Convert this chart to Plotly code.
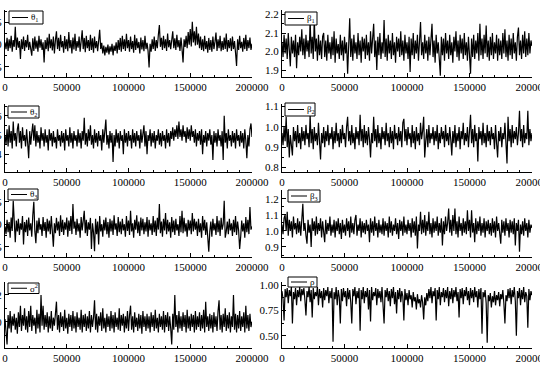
import plotly.graph_objects as go

# ---------------- data ----------------
N_ITER = 200000

theta1 = [1.05,0.90,1.15,0.86,1.12,0.92,1.20,0.84,1.10,0.95,1.40,0.88,1.16,0.93,1.08,0.68,1.12,0.90,1.18,0.86,
          1.10,0.94,1.22,0.88,1.06,0.92,0.75,1.14,0.86,1.18,0.91,1.09,0.84,1.20,0.93,1.12,0.88,1.05,0.60,1.10,
          0.90,1.16,0.85,1.24,0.92,1.12,0.87,1.18,0.80,1.10,1.30,0.90,1.15,0.86,1.22,0.94,1.08,0.82,1.19,0.90,
          1.12,0.85,1.28,0.92,1.10,0.80,1.16,0.89,1.24,0.86,1.08,0.93,1.18,0.84,1.12,1.32,0.90,1.15,0.83,1.20,
          0.92,1.10,0.86,1.22,0.88,1.14,0.82,1.18,0.92,1.08,0.85,1.20,1.33,0.90,1.04,0.80,0.98,0.76,0.95,0.82,
          1.00,0.78,0.96,0.84,1.02,0.76,0.98,0.86,1.05,0.80,1.10,0.88,1.15,0.84,1.20,0.90,1.12,0.86,1.24,0.92,
          1.10,0.84,1.18,0.90,1.08,0.82,1.22,0.88,1.14,0.92,1.06,0.80,1.16,0.89,1.10,0.85,1.20,0.90,1.04,0.86,
          0.49,1.02,0.84,1.12,0.90,1.18,0.86,1.10,0.92,1.22,1.44,0.95,1.15,0.88,1.20,0.92,1.12,0.86,1.25,0.94,
          1.10,0.90,1.18,1.30,0.92,1.14,0.88,1.22,0.94,1.10,0.86,1.16,0.90,0.60,1.12,0.95,1.20,0.92,1.28,1.00,
          1.35,0.96,1.51,1.05,1.30,0.98,1.40,1.00,1.25,0.92,1.18,0.88,1.12,0.85,1.20,0.90,1.08,0.82,1.15,0.88,
          1.10,0.84,1.18,0.90,1.06,1.27,0.86,1.12,0.92,1.20,0.85,1.08,0.88,1.16,0.90,1.25,0.84,1.10,0.92,1.14,
          0.86,1.18,0.90,1.08,0.82,0.52,1.12,0.88,1.20,0.92,1.06,0.84,1.15,0.90,1.22,0.86,1.10,0.92,1.16,0.88,
          1.02]

beta1 = [2.05,1.97,2.09,1.99,2.07,1.96,2.10,1.98,1.92,2.08,1.99,2.06,1.97,2.09,1.91,2.05,1.98,2.08,2.00,2.12,
         1.98,2.07,1.96,2.09,2.00,2.06,1.97,2.17,1.99,2.08,1.96,2.18,2.00,2.07,1.95,2.09,1.98,2.06,1.96,2.08,
         2.10,1.97,2.06,1.95,2.09,1.99,2.05,1.96,2.08,1.98,2.11,1.94,2.07,1.99,2.04,1.96,2.09,1.98,2.06,1.95,
         2.08,1.99,2.05,1.88,2.10,2.18,1.97,2.07,1.95,2.09,1.99,2.05,1.96,2.10,1.98,2.06,1.94,2.08,2.00,2.07,
         1.96,2.09,1.98,2.05,1.95,2.11,1.99,2.07,2.15,1.97,2.06,1.90,2.08,1.98,2.10,1.96,2.05,1.99,2.17,1.97,
         2.07,1.95,2.09,1.99,2.06,1.96,2.10,1.98,2.05,1.94,2.08,2.00,2.07,1.97,2.11,1.98,2.06,1.95,2.09,1.99,
         2.05,1.96,2.08,1.89,2.07,1.98,2.10,1.96,2.06,1.99,2.09,1.95,2.07,2.16,1.98,2.05,1.96,2.09,1.99,2.06,
         1.95,2.08,1.98,2.10,2.15,1.97,2.06,1.94,2.09,1.99,2.05,1.96,1.87,2.08,1.98,2.07,1.95,2.10,1.99,2.06,
         1.96,2.09,1.98,2.05,1.94,2.08,2.00,2.11,1.97,2.06,1.95,2.09,1.99,2.07,1.96,2.10,1.98,2.05,1.95,2.08,
         1.99,1.88,2.07,1.97,2.09,1.96,2.06,1.99,2.10,1.95,2.15,1.98,2.07,1.96,2.09,1.99,2.14,1.97,2.06,1.95,
         2.08,1.98,2.10,1.96,2.05,1.99,2.09,1.95,2.07,1.98,2.06,1.96,2.10,1.99,2.12,1.97,2.06,1.95,2.09,1.98,
         2.07,1.96,2.10,1.99,2.05,1.95,2.08,2.13,1.98,2.06,1.96,2.09,1.99,2.11,1.97,2.07,1.98,2.10,1.99,2.06,
         2.03]

theta2 = [0.50,0.45,0.53,0.44,0.55,0.46,0.52,0.43,0.57,0.47,0.51,0.44,0.53,0.56,0.46,0.52,0.43,0.54,0.47,0.50,
          0.44,0.53,0.46,0.38,0.52,0.45,0.51,0.56,0.47,0.55,0.44,0.52,0.46,0.50,0.43,0.54,0.47,0.51,0.44,0.53,
          0.46,0.50,0.42,0.53,0.47,0.51,0.44,0.52,0.46,0.49,0.43,0.53,0.47,0.50,0.44,0.52,0.46,0.51,0.42,0.53,
          0.47,0.50,0.44,0.54,0.46,0.51,0.43,0.52,0.47,0.50,0.44,0.53,0.46,0.51,0.43,0.52,0.47,0.59,0.45,0.51,
          0.44,0.53,0.47,0.55,0.45,0.50,0.43,0.53,0.46,0.51,0.44,0.52,0.47,0.50,0.42,0.53,0.46,0.51,0.58,0.45,
          0.50,0.43,0.52,0.46,0.51,0.36,0.50,0.44,0.53,0.46,0.51,0.43,0.52,0.47,0.50,0.40,0.53,0.46,0.51,0.44,
          0.52,0.47,0.50,0.43,0.53,0.46,0.51,0.44,0.52,0.47,0.50,0.43,0.53,0.46,0.51,0.55,0.44,0.52,0.40,0.50,
          0.47,0.53,0.44,0.51,0.46,0.52,0.43,0.50,0.47,0.53,0.45,0.51,0.44,0.52,0.47,0.50,0.43,0.53,0.46,0.51,
          0.44,0.52,0.48,0.54,0.47,0.53,0.49,0.55,0.48,0.57,0.49,0.53,0.47,0.55,0.49,0.52,0.46,0.54,0.48,0.53,
          0.47,0.55,0.49,0.52,0.46,0.53,0.44,0.51,0.47,0.52,0.45,0.53,0.40,0.50,0.46,0.52,0.44,0.51,0.47,0.53,
          0.45,0.50,0.37,0.52,0.46,0.51,0.44,0.53,0.47,0.50,0.44,0.52,0.37,0.60,0.46,0.51,0.43,0.53,0.47,0.50,
          0.44,0.52,0.46,0.51,0.43,0.53,0.47,0.50,0.44,0.52,0.46,0.51,0.43,0.53,0.47,0.38,0.50,0.44,0.53,0.56,
          0.49]

beta2 = [0.97,0.91,1.00,0.93,1.05,0.90,0.99,0.85,0.96,0.92,0.86,1.00,0.93,0.98,0.90,1.01,0.92,0.97,0.89,1.00,
         0.93,0.98,0.91,1.01,0.94,0.97,0.90,1.06,0.92,0.99,0.89,1.00,0.93,0.97,0.91,1.02,0.94,0.84,0.97,0.92,
         1.00,0.90,0.98,0.93,1.01,0.91,0.97,0.94,1.00,0.89,0.98,0.92,1.02,0.93,0.97,0.90,0.99,0.92,1.01,0.94,
         0.97,0.90,1.00,1.05,0.93,0.98,0.91,1.01,0.92,0.97,0.89,1.00,0.94,0.98,0.91,1.06,0.93,0.99,0.90,1.01,
         0.92,0.98,0.91,1.00,0.94,0.85,0.97,0.92,1.05,0.93,0.99,0.90,1.01,0.92,0.97,0.89,1.00,0.94,0.98,0.91,
         1.02,0.93,0.97,0.90,1.00,0.92,0.98,0.89,1.01,0.94,0.97,0.91,1.00,0.93,0.98,0.90,1.02,1.04,0.93,0.99,
         0.91,1.00,0.94,0.97,0.90,1.01,0.92,0.98,0.89,1.00,0.93,0.97,0.91,1.02,0.94,0.98,1.05,0.85,0.93,0.99,
         0.90,1.01,0.92,0.97,0.94,1.00,0.91,0.98,0.93,1.01,0.89,0.97,0.92,1.00,0.94,0.98,0.90,1.01,0.93,0.97,
         0.91,1.00,0.94,0.86,0.98,0.92,1.01,0.90,0.97,0.93,1.00,0.89,0.98,0.94,1.02,0.91,0.97,0.93,1.00,0.90,
         0.98,1.06,0.92,0.99,0.90,1.01,0.93,0.97,0.83,1.00,0.94,0.98,0.91,1.02,0.92,0.97,0.90,1.01,0.93,0.98,
         0.91,1.00,0.94,0.97,0.89,1.01,0.92,0.85,0.98,0.93,1.00,0.90,0.97,0.94,1.02,0.91,0.82,1.05,0.93,0.99,
         0.90,1.01,0.92,0.98,0.94,1.00,0.91,0.97,1.08,0.93,0.99,0.90,1.01,0.92,0.97,0.94,1.08,0.91,0.99,0.93,
         0.97]

theta3 = [0.95,0.78,1.10,0.82,1.05,0.70,1.15,0.85,1.52,0.80,0.60,1.08,0.84,1.12,0.76,1.02,0.88,1.18,0.55,1.05,
          0.82,1.10,0.74,1.15,0.86,1.02,0.72,1.20,1.50,0.84,0.58,1.08,0.80,1.14,0.88,1.00,0.74,1.16,0.85,1.05,
          0.70,1.12,0.84,1.08,0.78,1.18,0.88,0.50,1.02,0.80,1.14,0.86,1.06,0.74,1.20,0.83,1.10,0.76,1.04,0.88,
          1.15,0.72,1.08,0.85,1.18,0.78,1.45,0.90,1.06,0.76,1.12,0.84,1.02,0.70,1.16,0.86,1.08,1.30,0.80,1.10,
          0.74,1.04,0.88,1.14,0.45,1.02,0.82,0.40,1.12,0.78,1.06,0.55,1.18,0.84,1.00,0.72,1.10,0.86,1.15,0.78,
          1.05,0.70,1.12,0.84,1.08,0.76,1.20,0.88,1.02,0.74,1.16,0.82,1.06,0.78,1.12,0.86,1.00,0.72,1.18,0.85,
          1.08,0.76,1.30,0.84,1.02,0.70,1.10,0.88,1.20,0.80,1.06,0.74,1.15,0.86,1.12,0.78,1.04,0.84,1.16,0.72,
          1.10,0.86,1.02,0.76,1.18,0.82,1.08,0.74,1.14,0.88,1.45,0.80,1.06,0.72,1.12,0.86,1.25,0.78,1.10,0.84,
          1.04,0.70,1.16,0.82,1.08,0.76,1.12,0.86,1.00,0.74,1.18,0.82,1.30,0.80,1.14,0.84,1.02,0.72,1.10,0.86,
          1.08,0.78,1.25,0.84,1.12,0.88,1.06,0.74,1.12,0.82,1.02,0.70,1.18,0.86,1.10,0.76,1.04,0.80,0.39,0.84,
          1.06,0.72,1.12,0.86,1.02,0.76,1.18,0.82,1.08,0.74,1.14,0.88,1.00,1.52,0.70,0.84,1.06,0.78,1.12,0.86,
          1.02,0.74,1.10,0.82,1.18,0.76,1.06,0.86,0.45,0.72,1.08,0.84,1.02,0.70,1.16,0.82,1.10,0.78,1.38,0.88,
          0.95]

beta3 = [1.04,0.98,1.08,1.10,1.00,1.12,0.97,1.07,1.00,1.06,0.96,1.09,1.01,1.05,0.98,1.08,0.99,1.06,0.97,1.10,
         1.17,1.00,1.05,0.97,0.92,1.07,0.99,1.04,0.90,1.08,1.00,1.06,0.97,1.09,0.98,1.05,1.00,1.08,0.96,1.06,
         0.99,0.93,1.07,0.98,1.05,1.00,1.09,0.97,1.04,0.99,1.07,0.96,1.06,1.00,1.08,0.98,1.05,0.95,1.07,0.99,
         1.04,0.97,1.08,1.00,1.06,0.96,1.09,0.99,1.05,0.98,1.07,1.10,0.97,1.04,1.00,1.08,0.96,1.06,0.99,1.05,
         0.98,1.07,1.00,1.04,0.93,1.08,0.99,1.06,0.97,1.09,1.00,1.05,0.96,1.07,0.99,1.04,0.98,1.08,0.97,1.06,
         1.00,1.05,0.96,1.09,0.99,1.06,0.97,1.04,1.00,1.08,0.98,1.05,0.95,1.07,1.00,1.06,0.97,1.09,0.99,1.04,
         0.98,1.07,1.00,1.05,0.96,1.08,0.99,1.06,0.97,1.09,0.89,1.04,1.00,1.12,0.98,1.07,0.99,1.10,0.97,1.06,
         1.00,1.12,0.98,1.05,0.96,1.08,0.99,1.06,1.00,1.09,0.97,1.05,0.99,1.08,0.91,1.06,0.98,1.09,1.00,1.05,
         1.14,0.99,1.07,0.97,1.10,1.00,1.14,0.98,1.06,0.96,1.09,1.00,1.05,0.97,1.08,0.99,1.06,0.98,1.13,1.00,
         1.07,0.96,1.13,0.99,1.05,0.93,1.08,0.98,1.06,1.00,1.09,0.97,1.05,0.99,1.08,0.96,1.06,1.00,1.07,0.98,
         1.05,0.97,1.08,0.99,1.06,0.96,1.09,1.00,1.05,0.98,0.92,1.07,0.99,1.06,0.97,1.08,1.00,1.05,0.96,1.07,
         0.99,1.06,0.98,1.08,0.91,1.05,1.00,1.07,0.87,1.04,0.98,1.06,0.97,1.08,1.00,1.05,0.96,1.07,0.99,1.04,
         1.02]

sigma2 = [1.02,0.93,0.83,1.05,0.95,1.08,0.92,1.04,0.97,1.06,0.94,1.03,0.91,1.07,0.96,1.12,0.93,1.05,0.97,1.10,
          0.94,1.04,0.92,1.08,0.96,1.12,0.93,1.05,0.97,1.03,0.91,1.09,0.95,1.06,0.92,1.20,0.97,1.12,0.94,1.05,
          0.96,1.07,0.92,1.04,0.95,1.08,0.93,1.03,0.97,1.06,1.15,0.94,1.05,0.92,1.07,0.96,1.04,0.93,1.09,0.95,
          1.03,0.91,1.06,0.96,1.05,0.93,1.08,0.95,1.04,0.92,1.07,0.96,1.03,0.94,1.09,0.92,1.05,0.96,1.06,0.93,
          1.04,0.95,1.08,0.92,1.05,0.96,1.03,1.16,0.94,1.06,0.92,1.04,0.97,1.07,0.93,1.10,0.95,1.03,0.92,1.06,
          0.96,1.04,0.93,1.08,0.95,1.05,0.92,1.07,0.96,1.03,0.94,1.10,0.93,1.05,0.97,1.06,0.92,1.04,0.95,1.08,
          0.93,1.05,1.12,0.94,1.04,0.92,1.07,0.96,1.03,0.93,1.06,0.95,1.05,0.91,1.08,0.96,1.04,0.93,1.06,0.95,
          1.04,0.92,1.07,0.96,1.05,0.93,1.09,0.95,1.03,0.92,1.06,0.96,1.04,0.94,1.08,0.92,1.05,0.96,1.07,0.93,
          1.04,0.95,0.83,1.06,0.94,1.20,0.96,1.05,0.92,1.08,0.95,1.04,0.93,1.07,0.96,1.05,0.92,1.09,0.95,1.04,
          0.93,1.06,0.96,1.05,0.92,1.08,0.94,1.04,0.96,1.07,0.93,1.05,0.95,1.09,0.92,1.15,0.96,1.04,0.93,1.06,
          0.95,1.05,0.92,1.07,0.96,1.04,0.93,1.08,1.16,0.94,1.05,0.92,1.06,0.96,1.10,0.93,1.05,0.95,1.07,0.92,
          1.04,0.96,1.20,0.94,1.06,0.92,1.05,0.95,1.08,0.93,1.04,0.96,1.07,0.92,1.12,0.95,1.05,0.93,1.06,0.96,
          1.00]

rho = [0.94,0.86,0.65,0.96,0.88,0.97,0.82,0.95,0.89,0.98,0.62,0.93,0.86,0.97,0.80,0.95,0.88,0.98,0.84,0.96,
       0.90,0.97,0.85,0.70,0.94,0.88,0.98,0.83,0.95,0.68,0.97,0.86,0.93,0.89,0.98,0.80,0.96,0.87,0.94,0.78,
       0.97,0.85,0.95,0.89,0.98,0.82,0.94,0.87,0.97,0.44,0.93,0.86,0.98,0.80,0.95,0.88,0.62,0.96,0.84,0.97,
       0.88,0.94,0.79,0.97,0.86,0.95,0.83,0.62,0.96,0.89,0.98,0.81,0.94,0.87,0.97,0.55,0.95,0.86,0.98,0.82,
       0.94,0.88,0.97,0.76,0.95,0.64,0.98,0.85,0.93,0.89,0.97,0.80,0.96,0.87,0.94,0.83,0.98,0.78,0.62,0.95,
       0.88,0.97,0.84,0.94,0.79,0.96,0.87,0.98,0.81,0.93,0.72,0.95,0.86,0.97,0.83,0.94,0.89,0.65,0.96,0.85,
       0.92,0.80,0.95,0.86,0.90,0.78,0.93,0.84,0.88,0.76,0.91,0.82,0.86,0.78,0.90,0.83,0.66,0.88,0.80,0.92,
       0.84,0.96,0.87,0.98,0.82,0.94,0.89,0.97,0.65,0.95,0.86,0.98,0.80,0.93,0.88,0.97,0.83,0.95,0.87,0.98,
       0.79,0.94,0.86,0.97,0.82,0.95,0.88,0.98,0.84,0.93,0.68,0.96,0.87,0.97,0.81,0.95,0.89,0.98,0.85,0.94,
       0.80,0.97,0.87,0.95,0.83,0.98,0.88,0.94,0.78,0.96,0.86,0.97,0.52,0.93,0.88,0.95,0.82,0.43,0.90,0.84,
       0.92,0.78,0.89,0.83,0.94,0.80,0.90,0.85,0.93,0.79,0.91,0.86,0.95,0.82,0.62,0.90,0.84,0.96,0.87,0.97,
       0.81,0.95,0.88,0.98,0.84,0.50,0.94,0.87,0.97,0.80,0.95,0.86,0.98,0.83,0.93,0.89,0.58,0.96,0.85,0.94,
       0.90]

labels = ["θ<sub>1</sub>", "β<sub>1</sub>", "θ<sub>2</sub>", "β<sub>2</sub>",
          "θ<sub>3</sub>", "β<sub>3</sub>", "σ<sup>2</sup>", "ρ"]
series = [theta1, beta1, theta2, beta2, theta3, beta3, sigma2, rho]
x_ticks = [0, 50000, 100000, 150000, 200000]

# ---------------- layout geometry (pixels) ----------------
W, H = 540, 367
def fx(px):
    return px / W
def fy(py):
    return 1 - py / H

SERIF = "Liberation Serif, Times New Roman, serif"
col_px = [(5, 252), (282, 532)]
row_px = [(9.5, 77), (104, 172), (190, 257), (282, 347.5)]
# per panel: y range, major dtick, minor dtick, tick format
yspec = [
    ([0.274, 1.787], 0.5, 0.25, ".1f"),
    ([1.8625, 2.227], 0.1, 0.05, ".1f"),
    ([0.308, 0.661], 0.1, 0.05, ".1f"),
    ([0.778, 1.113], 0.1, 0.05, ".1f"),
    ([0.271, 1.76], 0.5, 0.25, ".1f"),
    ([0.8375, 1.256], 0.1, 0.05, ".1f"),
    ([0.807, 1.297], 0.2, 0.1, ".1f"),
    ([0.384, 1.03], 0.25, 0.125, ".2f"),
]
# legend boxes (x0, y0, x1, y1) in pixels
leg_px = [(9, 11, 43, 24), (285, 12, 317, 25),
          (8, 106, 39, 118), (285, 103, 315, 116),
          (8, 189, 38, 200), (288, 190, 320, 202),
          (8, 283, 39, 293.5), (288, 277, 317, 287)]

tickfont = dict(family=SERIF, size=11, color="black")

fig = go.Figure()
shapes = []
annotations = []
layout = dict(
    width=W, height=H,
    margin=dict(l=0, r=0, t=0, b=0),
    paper_bgcolor="white", plot_bgcolor="white",
    showlegend=False, template="none",
    font=dict(family=SERIF, size=11, color="black"),
)

for k, vals in enumerate(series):
    idx = k + 1
    r, c = divmod(k, 2)
    n = len(vals)
    iters = [i * N_ITER / (n - 1) for i in range(n)]
    fig.add_trace(go.Scatter(
        x=iters, y=vals, mode="lines",
        line=dict(color="black", width=1.2),
        xaxis=f"x{idx}", yaxis=f"y{idx}", showlegend=False,
        hoverinfo="skip"))
    x0, x1 = col_px[c]
    top, bot = row_px[r]
    yr, dt, mdt, fmt = yspec[k]
    layout[f"xaxis{idx}"] = dict(
        domain=[fx(x0), fx(x1)], anchor=f"y{idx}",
        range=[0, N_ITER], tickvals=x_ticks, tickformat="d",
        ticks="inside", ticklen=4, tickwidth=1, tickcolor="black",
        minor=dict(dtick=10000, ticks="inside", ticklen=2, tickcolor="black"),
        showline=True, linecolor="black", linewidth=1, mirror=False,
        showgrid=False, zeroline=False, tickfont=tickfont,
        ticklabeloverflow="allow", automargin=False, fixedrange=True)
    layout[f"yaxis{idx}"] = dict(
        domain=[fy(bot), fy(top)], anchor=f"x{idx}",
        range=yr, dtick=dt, tick0=0, tickformat=fmt,
        ticks="inside", ticklen=4, tickwidth=1, tickcolor="black",
        minor=dict(dtick=mdt, tick0=0, ticks="inside", ticklen=2, tickcolor="black"),
        showline=True, linecolor="black", linewidth=1, mirror=False,
        showgrid=False, zeroline=False, tickfont=tickfont,
        ticklabeloverflow="allow", automargin=False, fixedrange=True)

    lx0, ly0, lx1, ly1 = leg_px[k]
    shapes.append(dict(type="rect", xref="paper", yref="paper",
                       x0=fx(lx0), x1=fx(lx1), y0=fy(ly1), y1=fy(ly0),
                       line=dict(color="black", width=1), fillcolor="white",
                       layer="above"))
    ym = (ly0 + ly1) / 2
    shapes.append(dict(type="line", xref="paper", yref="paper",
                       x0=fx(lx0 + 3), x1=fx(lx0 + 19), y0=fy(ym), y1=fy(ym),
                       line=dict(color="black", width=1), layer="above"))
    annotations.append(dict(xref="paper", yref="paper", x=fx(lx0 + 20), y=fy(ym),
                            xanchor="left", yanchor="middle", showarrow=False,
                            text=labels[k],
                            font=dict(family=SERIF, size=9, color="black")))

layout["shapes"] = shapes
layout["annotations"] = annotations
fig.update_layout(**layout)
fig.write_html("out.html")
